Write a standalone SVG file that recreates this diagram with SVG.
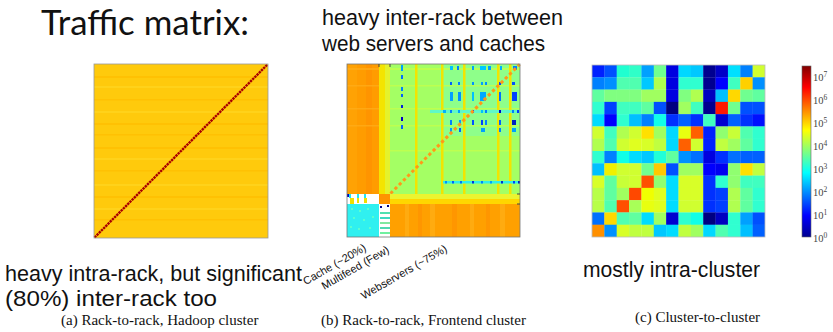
<svg xmlns="http://www.w3.org/2000/svg" width="833" height="332" viewBox="0 0 833 332">
<style>
.ann{font-family:"Liberation Sans",Arial,sans-serif;font-size:22px;fill:#111}
.title{font-family:Lato,"Liberation Sans",Arial,sans-serif;font-size:34px;fill:#111}
.cap{font-family:"Liberation Serif","Times New Roman",serif;font-size:15px;fill:#111}
.ax{font-family:"Liberation Sans",Arial,sans-serif;font-size:11px;fill:#111}
.cb{font-family:"Liberation Serif","Times New Roman",serif;font-size:10.5px;fill:#444}
.frame{fill:none;stroke:#999;stroke-width:0.8}
.yl{fill:#F2E400}
.bd{stroke:none}
</style>
<defs>
<linearGradient id="jet" x1="0" y1="0" x2="0" y2="1">
<stop offset="0" stop-color="#800000"/>
<stop offset="0.125" stop-color="#FF0000"/>
<stop offset="0.375" stop-color="#FFFF00"/>
<stop offset="0.625" stop-color="#00FFFF"/>
<stop offset="0.875" stop-color="#0000FF"/>
<stop offset="1" stop-color="#00008F"/>
</linearGradient>
</defs>
<rect width="833" height="332" fill="#fff"/>

<g id="title"><text class="title" x="41" y="35" textLength="208" lengthAdjust="spacingAndGlyphs">Traffic matrix:</text></g>

<g id="annotations">
<text class="ann" x="322" y="25" textLength="241" lengthAdjust="spacingAndGlyphs">heavy inter-rack between</text>
<text class="ann" x="322" y="51" textLength="223" lengthAdjust="spacingAndGlyphs">web servers and caches</text>
<text class="ann" x="5" y="281" textLength="297" lengthAdjust="spacingAndGlyphs">heavy intra-rack, but significant</text>
<text class="ann" x="5" y="306" textLength="212" lengthAdjust="spacingAndGlyphs">(80%) inter-rack too</text>
<text class="ann" x="583" y="277" textLength="177" lengthAdjust="spacingAndGlyphs">mostly intra-cluster</text>
</g>

<g id="matrix-a">
<rect x="94" y="64" width="174" height="174" fill="#FFCA0C"/>
<g fill="#FFBE00" opacity="0.7">
<rect x="94" y="76" width="174" height="2"/>
<rect x="94" y="99" width="174" height="1.5"/>
<rect x="94" y="123" width="174" height="2"/>
<rect x="94" y="134" width="174" height="1.5"/>
<rect x="94" y="147" width="174" height="2"/>
<rect x="94" y="170" width="174" height="1.5"/>
<rect x="94" y="196" width="174" height="2"/>
<rect x="94" y="219" width="174" height="1.5"/>
</g>
<g fill="#FFD620" opacity="0.7">
<rect x="94" y="86" width="174" height="2"/>
<rect x="94" y="111" width="174" height="2"/>
<rect x="94" y="158" width="174" height="2"/>
<rect x="94" y="184" width="174" height="2"/>
<rect x="94" y="208" width="174" height="2"/>
</g>
<line x1="94.5" y1="237.5" x2="267.5" y2="64.5" stroke="#A80000" stroke-width="2.4" stroke-dasharray="2.4 0.7"/>
<rect class="frame" x="94" y="64" width="174" height="174"/>
</g>

<g id="matrix-b">
<rect x="347" y="64" width="173" height="173" fill="#A4FF64"/>
<rect x="347" y="64" width="32" height="130" fill="#FF9C00"/>
<rect x="347" y="64" width="10" height="130" fill="#FFA204"/>
<rect x="366" y="64" width="6" height="130" fill="#FF9400"/>
<g fill="#FFAC18" opacity="0.8">
<rect x="347" y="68" width="32" height="2"/>
<rect x="347" y="85" width="32" height="1.5"/>
<rect x="347" y="108" width="32" height="1.5"/>
<rect x="347" y="125" width="32" height="1.5"/>
</g>
<rect x="379" y="64" width="6" height="130" fill="#F4E400"/>
<rect x="385" y="64" width="5" height="130" fill="#E4F22C"/>
<rect x="440" y="64" width="80" height="72" fill="#88FF94" opacity="0.8"/>
<g fill="#C4FF4C" opacity="0.8">
<rect x="390" y="68" width="130" height="2"/>
<rect x="390" y="85" width="130" height="1.5"/>
<rect x="390" y="108" width="130" height="1.5"/>
<rect x="390" y="125" width="130" height="1.5"/>
<rect x="390" y="150" width="130" height="1.5"/>
</g>
<g class="yl">
<rect x="415" y="64" width="2.5" height="130"/>
<rect x="441" y="64" width="2.5" height="130"/>
<rect x="463" y="64" width="2.5" height="130"/>
<rect x="497" y="64" width="2.5" height="130"/>
<rect x="509" y="64" width="2.5" height="130"/>
</g>
<rect x="430" y="110" width="90" height="3" fill="#60F8C8"/>
<rect x="443" y="181" width="77" height="2.5" fill="#30F0E8"/>
<g class="bd">
<rect x="401" y="65" width="2" height="6" fill="#00A0FF"/>
<rect x="401" y="75" width="2" height="4" fill="#0070FF"/>
<rect x="401" y="87" width="2" height="4" fill="#0080FF"/>
<rect x="401" y="94" width="2" height="3" fill="#0060FF"/>
<rect x="401" y="105" width="2" height="3" fill="#0020E0"/>
<rect x="401" y="117" width="2" height="4" fill="#0000C8"/>
<rect x="401" y="125" width="2" height="4" fill="#0060FF"/>
<rect x="450" y="66" width="3" height="4" fill="#00C0FF"/>
<rect x="457" y="66" width="2" height="4" fill="#0080FF"/>
<rect x="472" y="66" width="2" height="4" fill="#00A0FF"/>
<rect x="480" y="66" width="6" height="4" fill="#00C8FF"/>
<rect x="488" y="66" width="3" height="4" fill="#00A0FF"/>
<rect x="500" y="66" width="2" height="4" fill="#00B0FF"/>
<rect x="513" y="66" width="4" height="4" fill="#0080FF"/>
<rect x="450" y="82" width="2" height="3" fill="#0060FF"/>
<rect x="458" y="82" width="2" height="3" fill="#0080FF"/>
<rect x="472" y="82" width="2" height="3" fill="#0090FF"/>
<rect x="481" y="82" width="2" height="3" fill="#00A0FF"/>
<rect x="485" y="82" width="2" height="3" fill="#0090FF"/>
<rect x="499" y="82" width="2" height="3" fill="#0040FF"/>
<rect x="512" y="82" width="3" height="3" fill="#0050FF"/>
<rect x="450" y="92" width="3" height="9" fill="#00A0FF"/>
<rect x="458" y="92" width="3" height="9" fill="#0090FF"/>
<rect x="472" y="92" width="2" height="9" fill="#00C0FF"/>
<rect x="480" y="92" width="6" height="9" fill="#00A8FF"/>
<rect x="499" y="92" width="2" height="9" fill="#0070FF"/>
<rect x="512" y="92" width="5" height="9" fill="#0040FF"/>
<rect x="443" y="110" width="3" height="3" fill="#00B0FF"/>
<rect x="450" y="110" width="2" height="3" fill="#0080FF"/>
<rect x="458" y="110" width="2" height="3" fill="#00A0FF"/>
<rect x="472" y="110" width="2" height="3" fill="#0040FF"/>
<rect x="481" y="110" width="2" height="3" fill="#00C0FF"/>
<rect x="485" y="110" width="2" height="3" fill="#0080FF"/>
<rect x="499" y="110" width="2" height="3" fill="#0000C0"/>
<rect x="512" y="110" width="2" height="3" fill="#0080FF"/>
<rect x="517" y="110" width="2" height="3" fill="#0040FF"/>
<rect x="450" y="120" width="2" height="5" fill="#0080FF"/>
<rect x="459" y="120" width="2" height="5" fill="#00A0FF"/>
<rect x="472" y="120" width="2" height="5" fill="#0050FF"/>
<rect x="481" y="120" width="2" height="5" fill="#0040FF"/>
<rect x="485" y="120" width="2" height="5" fill="#0080FF"/>
<rect x="499" y="120" width="2" height="5" fill="#0060FF"/>
<rect x="512" y="120" width="4" height="5" fill="#0020C0"/>
<rect x="450" y="128" width="2" height="4" fill="#00A0FF"/>
<rect x="459" y="128" width="2" height="4" fill="#0060FF"/>
<rect x="481" y="128" width="4" height="4" fill="#00A0FF"/>
<rect x="499" y="128" width="2" height="4" fill="#0080FF"/>
<rect x="512" y="128" width="4" height="4" fill="#00A0FF"/>
<rect x="445" y="181" width="2" height="2.5" fill="#0090FF"/>
<rect x="452" y="181" width="2" height="2.5" fill="#0060FF"/>
<rect x="460" y="181" width="2" height="2.5" fill="#0070FF"/>
<rect x="472" y="181" width="2" height="2.5" fill="#0030E0"/>
<rect x="481" y="181" width="2" height="2.5" fill="#0080FF"/>
<rect x="490" y="181" width="2" height="2.5" fill="#00A0FF"/>
<rect x="501" y="181" width="2" height="2.5" fill="#0030D0"/>
<rect x="513" y="181" width="2" height="2.5" fill="#0040FF"/>
<rect x="518" y="181" width="2" height="2.5" fill="#0020C0"/>
</g>
<line x1="390.5" y1="193.5" x2="519.5" y2="64.5" stroke="#FF9818" stroke-width="3" stroke-dasharray="3.2 2.8"/>
<rect x="347" y="194" width="32" height="10" fill="#FFFFFF"/>
<rect x="347" y="194" width="2" height="3" fill="#0000C0"/>
<rect x="349" y="194" width="2" height="4" fill="#20E8F0"/>
<rect x="350" y="198" width="4" height="6" fill="#F0E000"/>
<rect x="357" y="194" width="2" height="4" fill="#20E8F0"/>
<rect x="357" y="198" width="2" height="5" fill="#F0E000"/>
<rect x="364" y="194" width="2" height="4" fill="#20E8F0"/>
<rect x="364" y="198" width="3" height="5" fill="#F0E000"/>
<rect x="379" y="194" width="11" height="10" fill="#FF9400"/>
<rect x="390" y="194" width="130" height="5" fill="#ECF430"/>
<rect x="390" y="199" width="130" height="5" fill="#FFD600"/>
<rect x="347" y="204" width="32" height="33" fill="#30F0F0"/>
<g fill="#58FFD0">
<rect x="351" y="208" width="2" height="2"/><rect x="359" y="210" width="2" height="2"/><rect x="367" y="208" width="2" height="2"/>
<rect x="353" y="217" width="2" height="2"/><rect x="363" y="219" width="2" height="2"/><rect x="372" y="216" width="2" height="2"/>
<rect x="350" y="226" width="2" height="2"/><rect x="358" y="228" width="2" height="2"/><rect x="369" y="227" width="2" height="2"/>
</g>
<rect x="379" y="204" width="11" height="33" fill="#FFFFFF"/>
<rect x="380" y="206" width="2" height="2" fill="#000090"/>
<rect x="387" y="205" width="2" height="2" fill="#000080"/>
<rect x="380" y="212" width="10" height="2" fill="#50E0B0"/>
<rect x="380" y="217" width="10" height="2" fill="#40D8C0"/>
<rect x="380" y="222" width="10" height="2" fill="#80E8A0"/>
<rect x="380" y="227" width="10" height="2" fill="#50D8B0"/>
<rect x="380" y="232" width="10" height="2" fill="#70F0A0"/>
<rect x="390" y="204" width="130" height="33" fill="#FFA000"/>
<g fill="#FFAE14" opacity="0.8">
<rect x="405" y="204" width="4" height="33"/><rect x="430" y="204" width="5" height="33"/><rect x="470" y="204" width="4" height="33"/><rect x="500" y="204" width="5" height="33"/>
</g>
<g fill="#FF9400" opacity="0.8">
<rect x="418" y="204" width="4" height="33"/><rect x="452" y="204" width="5" height="33"/><rect x="486" y="204" width="4" height="33"/>
</g>
<rect x="347" y="64" width="173" height="173" fill="none" stroke="#777" stroke-width="0.8"/>
<g stroke="#444" stroke-width="1">
<line x1="379" y1="64" x2="379" y2="67"/><line x1="390" y1="64" x2="390" y2="67"/>
<line x1="520" y1="194" x2="517" y2="194"/><line x1="520" y1="204" x2="517" y2="204"/>
</g>
<text class="ax" x="367" y="250" text-anchor="end" transform="rotate(-30 367 250)">Cache (~20%)</text>
<text class="ax" x="390" y="252" text-anchor="end" transform="rotate(-30 390 252)">Multifeed (Few)</text>
<text class="ax" x="448" y="251" text-anchor="end" transform="rotate(-30 448 251)">Webservers (~75%)</text>
</g>

<g id="matrix-c">
<g transform="translate(592 65) scale(12.357 12.286)">
<g>
<rect x="0" y="0" width="1.02" height="1.02" fill="#0020FF"/><rect x="1" y="0" width="1.02" height="1.02" fill="#0050FF"/><rect x="2" y="0" width="1.02" height="1.02" fill="#20FFD0"/><rect x="3" y="0" width="1.02" height="1.02" fill="#30FFC8"/><rect x="4" y="0" width="1.02" height="1.02" fill="#00A0FF"/><rect x="5" y="0" width="1.02" height="1.02" fill="#70FF90"/><rect x="6" y="0" width="1.02" height="1.02" fill="#0000E0"/><rect x="7" y="0" width="1.02" height="1.02" fill="#00D8FF"/><rect x="8" y="0" width="1.02" height="1.02" fill="#00C8FF"/><rect x="9" y="0" width="1.02" height="1.02" fill="#000090"/><rect x="10" y="0" width="1.02" height="1.02" fill="#0000C8"/><rect x="11" y="0" width="1.02" height="1.02" fill="#00E0FF"/><rect x="12" y="0" width="1.02" height="1.02" fill="#0080FF"/><rect x="13" y="0" width="1" height="1.02" fill="#D0FF30"/>
<rect x="0" y="1" width="1.02" height="1.02" fill="#0080FF"/><rect x="1" y="1" width="1.02" height="1.02" fill="#0090FF"/><rect x="2" y="1" width="1.02" height="1.02" fill="#50FFB0"/><rect x="3" y="1" width="1.02" height="1.02" fill="#50FFB0"/><rect x="4" y="1" width="1.02" height="1.02" fill="#00C8FF"/><rect x="5" y="1" width="1.02" height="1.02" fill="#B0FF50"/><rect x="6" y="1" width="1.02" height="1.02" fill="#0000E0"/><rect x="7" y="1" width="1.02" height="1.02" fill="#30FFD0"/><rect x="8" y="1" width="1.02" height="1.02" fill="#30FFD0"/><rect x="9" y="1" width="1.02" height="1.02" fill="#000090"/><rect x="10" y="1" width="1.02" height="1.02" fill="#0000FF"/><rect x="11" y="1" width="1.02" height="1.02" fill="#40FFC0"/><rect x="12" y="1" width="1.02" height="1.02" fill="#FFD000"/><rect x="13" y="1" width="1" height="1.02" fill="#0090FF"/>
<rect x="0" y="2" width="1.02" height="1.02" fill="#60FFA0"/><rect x="1" y="2" width="1.02" height="1.02" fill="#80FF80"/><rect x="2" y="2" width="1.02" height="1.02" fill="#80FF80"/><rect x="3" y="2" width="1.02" height="1.02" fill="#80FF80"/><rect x="4" y="2" width="1.02" height="1.02" fill="#A0FF60"/><rect x="5" y="2" width="1.02" height="1.02" fill="#A0FF60"/><rect x="6" y="2" width="1.02" height="1.02" fill="#0000E0"/><rect x="7" y="2" width="1.02" height="1.02" fill="#80FF80"/><rect x="8" y="2" width="1.02" height="1.02" fill="#B0FF50"/><rect x="9" y="2" width="1.02" height="1.02" fill="#0000C0"/><rect x="10" y="2" width="1.02" height="1.02" fill="#00C0FF"/><rect x="11" y="2" width="1.02" height="1.02" fill="#FFD800"/><rect x="12" y="2" width="1.02" height="1.02" fill="#70FF90"/><rect x="13" y="2" width="1" height="1.02" fill="#60FFA0"/>
<rect x="0" y="3" width="1.02" height="1.02" fill="#30FFD0"/><rect x="1" y="3" width="1.02" height="1.02" fill="#0040FF"/><rect x="2" y="3" width="1.02" height="1.02" fill="#40FFC0"/><rect x="3" y="3" width="1.02" height="1.02" fill="#40FFC0"/><rect x="4" y="3" width="1.02" height="1.02" fill="#60FFA0"/><rect x="5" y="3" width="1.02" height="1.02" fill="#0050FF"/><rect x="6" y="3" width="1.02" height="1.02" fill="#000080"/><rect x="7" y="3" width="1.02" height="1.02" fill="#A0FF60"/><rect x="8" y="3" width="1.02" height="1.02" fill="#40FFC0"/><rect x="9" y="3" width="1.02" height="1.02" fill="#000090"/><rect x="10" y="3" width="1.02" height="1.02" fill="#FF1800"/><rect x="11" y="3" width="1.02" height="1.02" fill="#70FF90"/><rect x="12" y="3" width="1.02" height="1.02" fill="#0050FF"/><rect x="13" y="3" width="1" height="1.02" fill="#0050FF"/>
<rect x="0" y="4" width="1.02" height="1.02" fill="#00DCFF"/><rect x="1" y="4" width="1.02" height="1.02" fill="#0000FF"/><rect x="2" y="4" width="1.02" height="1.02" fill="#30FFD0"/><rect x="3" y="4" width="1.02" height="1.02" fill="#00C0FF"/><rect x="4" y="4" width="1.02" height="1.02" fill="#0080FF"/><rect x="5" y="4" width="1.02" height="1.02" fill="#10FFE8"/><rect x="6" y="4" width="1.02" height="1.02" fill="#0030FF"/><rect x="7" y="4" width="1.02" height="1.02" fill="#0060FF"/><rect x="8" y="4" width="1.02" height="1.02" fill="#0030FF"/><rect x="9" y="4" width="1.02" height="1.02" fill="#40FFC0"/><rect x="10" y="4" width="1.02" height="1.02" fill="#0000D0"/><rect x="11" y="4" width="1.02" height="1.02" fill="#0060FF"/><rect x="12" y="4" width="1.02" height="1.02" fill="#0030FF"/><rect x="13" y="4" width="1" height="1.02" fill="#0010FF"/>
<rect x="0" y="5" width="1.02" height="1.02" fill="#D0FF30"/><rect x="1" y="5" width="1.02" height="1.02" fill="#40FFC0"/><rect x="2" y="5" width="1.02" height="1.02" fill="#B0FF50"/><rect x="3" y="5" width="1.02" height="1.02" fill="#D0FF30"/><rect x="4" y="5" width="1.02" height="1.02" fill="#FFE000"/><rect x="5" y="5" width="1.02" height="1.02" fill="#A0FF60"/><rect x="6" y="5" width="1.02" height="1.02" fill="#00D8FF"/><rect x="7" y="5" width="1.02" height="1.02" fill="#E8FF10"/><rect x="8" y="5" width="1.02" height="1.02" fill="#FF6000"/><rect x="9" y="5" width="1.02" height="1.02" fill="#0020FF"/><rect x="10" y="5" width="1.02" height="1.02" fill="#90FF70"/><rect x="11" y="5" width="1.02" height="1.02" fill="#C8FF38"/><rect x="12" y="5" width="1.02" height="1.02" fill="#50FFB0"/><rect x="13" y="5" width="1" height="1.02" fill="#30FFD0"/>
<rect x="0" y="6" width="1.02" height="1.02" fill="#B0FF50"/><rect x="1" y="6" width="1.02" height="1.02" fill="#50FFB0"/><rect x="2" y="6" width="1.02" height="1.02" fill="#D0FF30"/><rect x="3" y="6" width="1.02" height="1.02" fill="#E0FF20"/><rect x="4" y="6" width="1.02" height="1.02" fill="#D8FF28"/><rect x="5" y="6" width="1.02" height="1.02" fill="#C0FF40"/><rect x="6" y="6" width="1.02" height="1.02" fill="#00D8FF"/><rect x="7" y="6" width="1.02" height="1.02" fill="#FF6000"/><rect x="8" y="6" width="1.02" height="1.02" fill="#D0FF30"/><rect x="9" y="6" width="1.02" height="1.02" fill="#0020FF"/><rect x="10" y="6" width="1.02" height="1.02" fill="#C0FF40"/><rect x="11" y="6" width="1.02" height="1.02" fill="#A0FF60"/><rect x="12" y="6" width="1.02" height="1.02" fill="#60FFA0"/><rect x="13" y="6" width="1" height="1.02" fill="#30FFD0"/>
<rect x="0" y="7" width="1.02" height="1.02" fill="#30FFD0"/><rect x="1" y="7" width="1.02" height="1.02" fill="#0080FF"/><rect x="2" y="7" width="1.02" height="1.02" fill="#10FFE8"/><rect x="3" y="7" width="1.02" height="1.02" fill="#00DCFF"/><rect x="4" y="7" width="1.02" height="1.02" fill="#00C8FF"/><rect x="5" y="7" width="1.02" height="1.02" fill="#20FFD8"/><rect x="6" y="7" width="1.02" height="1.02" fill="#60FFA0"/><rect x="7" y="7" width="1.02" height="1.02" fill="#0090FF"/><rect x="8" y="7" width="1.02" height="1.02" fill="#0070FF"/><rect x="9" y="7" width="1.02" height="1.02" fill="#0000E0"/><rect x="10" y="7" width="1.02" height="1.02" fill="#0030FF"/><rect x="11" y="7" width="1.02" height="1.02" fill="#0070FF"/><rect x="12" y="7" width="1.02" height="1.02" fill="#0060FF"/><rect x="13" y="7" width="1" height="1.02" fill="#0060FF"/>
<rect x="0" y="8" width="1.02" height="1.02" fill="#00C0FF"/><rect x="1" y="8" width="1.02" height="1.02" fill="#F0F000"/><rect x="2" y="8" width="1.02" height="1.02" fill="#D0FF30"/><rect x="3" y="8" width="1.02" height="1.02" fill="#D0FF30"/><rect x="4" y="8" width="1.02" height="1.02" fill="#70FF90"/><rect x="5" y="8" width="1.02" height="1.02" fill="#FFC800"/><rect x="6" y="8" width="1.02" height="1.02" fill="#0050FF"/><rect x="7" y="8" width="1.02" height="1.02" fill="#A0FF60"/><rect x="8" y="8" width="1.02" height="1.02" fill="#A0FF60"/><rect x="9" y="8" width="1.02" height="1.02" fill="#0000FF"/><rect x="10" y="8" width="1.02" height="1.02" fill="#0000F0"/><rect x="11" y="8" width="1.02" height="1.02" fill="#90FF70"/><rect x="12" y="8" width="1.02" height="1.02" fill="#FFE000"/><rect x="13" y="8" width="1" height="1.02" fill="#C0FF40"/>
<rect x="0" y="9" width="1.02" height="1.02" fill="#D8FF28"/><rect x="1" y="9" width="1.02" height="1.02" fill="#60FFA0"/><rect x="2" y="9" width="1.02" height="1.02" fill="#C8FF38"/><rect x="3" y="9" width="1.02" height="1.02" fill="#D0FF30"/><rect x="4" y="9" width="1.02" height="1.02" fill="#FF5000"/><rect x="5" y="9" width="1.02" height="1.02" fill="#90FF70"/><rect x="6" y="9" width="1.02" height="1.02" fill="#00DCFF"/><rect x="7" y="9" width="1.02" height="1.02" fill="#D8FF28"/><rect x="8" y="9" width="1.02" height="1.02" fill="#D8FF28"/><rect x="9" y="9" width="1.02" height="1.02" fill="#0030FF"/><rect x="10" y="9" width="1.02" height="1.02" fill="#30FFD0"/><rect x="11" y="9" width="1.02" height="1.02" fill="#90FF70"/><rect x="12" y="9" width="1.02" height="1.02" fill="#40FFC0"/><rect x="13" y="9" width="1" height="1.02" fill="#40FFC0"/>
<rect x="0" y="10" width="1.02" height="1.02" fill="#B8FF48"/><rect x="1" y="10" width="1.02" height="1.02" fill="#60FFA0"/><rect x="2" y="10" width="1.02" height="1.02" fill="#A0FF60"/><rect x="3" y="10" width="1.02" height="1.02" fill="#FF4800"/><rect x="4" y="10" width="1.02" height="1.02" fill="#F0FF00"/><rect x="5" y="10" width="1.02" height="1.02" fill="#E0FF20"/><rect x="6" y="10" width="1.02" height="1.02" fill="#00DCFF"/><rect x="7" y="10" width="1.02" height="1.02" fill="#D8FF28"/><rect x="8" y="10" width="1.02" height="1.02" fill="#D8FF28"/><rect x="9" y="10" width="1.02" height="1.02" fill="#0030FF"/><rect x="10" y="10" width="1.02" height="1.02" fill="#0040FF"/><rect x="11" y="10" width="1.02" height="1.02" fill="#B0FF50"/><rect x="12" y="10" width="1.02" height="1.02" fill="#60FFA0"/><rect x="13" y="10" width="1" height="1.02" fill="#30FFD0"/>
<rect x="0" y="11" width="1.02" height="1.02" fill="#B8FF48"/><rect x="1" y="11" width="1.02" height="1.02" fill="#50FFB0"/><rect x="2" y="11" width="1.02" height="1.02" fill="#FF5000"/><rect x="3" y="11" width="1.02" height="1.02" fill="#A8FF58"/><rect x="4" y="11" width="1.02" height="1.02" fill="#E8FF10"/><rect x="5" y="11" width="1.02" height="1.02" fill="#E0FF20"/><rect x="6" y="11" width="1.02" height="1.02" fill="#00DCFF"/><rect x="7" y="11" width="1.02" height="1.02" fill="#D0FF30"/><rect x="8" y="11" width="1.02" height="1.02" fill="#D0FF30"/><rect x="9" y="11" width="1.02" height="1.02" fill="#0030FF"/><rect x="10" y="11" width="1.02" height="1.02" fill="#0040FF"/><rect x="11" y="11" width="1.02" height="1.02" fill="#B0FF50"/><rect x="12" y="11" width="1.02" height="1.02" fill="#60FFA0"/><rect x="13" y="11" width="1" height="1.02" fill="#30FFD0"/>
<rect x="0" y="12" width="1.02" height="1.02" fill="#0070FF"/><rect x="1" y="12" width="1.02" height="1.02" fill="#FFD800"/><rect x="2" y="12" width="1.02" height="1.02" fill="#50FFB0"/><rect x="3" y="12" width="1.02" height="1.02" fill="#60FFA0"/><rect x="4" y="12" width="1.02" height="1.02" fill="#00DCFF"/><rect x="5" y="12" width="1.02" height="1.02" fill="#A0FF60"/><rect x="6" y="12" width="1.02" height="1.02" fill="#0000D0"/><rect x="7" y="12" width="1.02" height="1.02" fill="#30FFD0"/><rect x="8" y="12" width="1.02" height="1.02" fill="#10FFE8"/><rect x="9" y="12" width="1.02" height="1.02" fill="#000080"/><rect x="10" y="12" width="1.02" height="1.02" fill="#0000C0"/><rect x="11" y="12" width="1.02" height="1.02" fill="#30FFD0"/><rect x="12" y="12" width="1.02" height="1.02" fill="#00A0FF"/><rect x="13" y="12" width="1" height="1.02" fill="#0050FF"/>
<rect x="0" y="13" width="1.02" height="1" fill="#FF9000"/><rect x="1" y="13" width="1.02" height="1" fill="#0090FF"/><rect x="2" y="13" width="1.02" height="1" fill="#D8FF28"/><rect x="3" y="13" width="1.02" height="1" fill="#C0FF40"/><rect x="4" y="13" width="1.02" height="1" fill="#C0FF40"/><rect x="5" y="13" width="1.02" height="1" fill="#00C8FF"/><rect x="6" y="13" width="1.02" height="1" fill="#00DCFF"/><rect x="7" y="13" width="1.02" height="1" fill="#C0FF40"/><rect x="8" y="13" width="1.02" height="1" fill="#A0FF60"/><rect x="9" y="13" width="1.02" height="1" fill="#00D8FF"/><rect x="10" y="13" width="1.02" height="1" fill="#50FFB0"/><rect x="11" y="13" width="1.02" height="1" fill="#30FFD0"/><rect x="12" y="13" width="1.02" height="1" fill="#00C0FF"/><rect x="13" y="13" width="1" height="1" fill="#0060FF"/>
</g>
</g>
<rect x="592" y="65" width="173" height="172" fill="none" stroke="#bbb" stroke-width="0.8"/>
</g>

<g id="colorbar">
<rect x="802" y="66" width="9" height="171" fill="url(#jet)" stroke="#666" stroke-width="0.6"/>
<text class="cb" x="813" y="81">10<tspan font-size="7.5" dy="-4.5">7</tspan></text>
<text class="cb" x="813" y="104">10<tspan font-size="7.5" dy="-4.5">6</tspan></text>
<text class="cb" x="813" y="127">10<tspan font-size="7.5" dy="-4.5">5</tspan></text>
<text class="cb" x="813" y="150">10<tspan font-size="7.5" dy="-4.5">4</tspan></text>
<text class="cb" x="813" y="173">10<tspan font-size="7.5" dy="-4.5">3</tspan></text>
<text class="cb" x="813" y="196">10<tspan font-size="7.5" dy="-4.5">2</tspan></text>
<text class="cb" x="813" y="219">10<tspan font-size="7.5" dy="-4.5">1</tspan></text>
<text class="cb" x="813" y="242">10<tspan font-size="7.5" dy="-4.5">0</tspan></text>
</g>

<g id="captions">
<text class="cap" x="61" y="325">(a) Rack-to-rack, Hadoop cluster</text>
<text class="cap" x="321" y="325">(b) Rack-to-rack, Frontend cluster</text>
<text class="cap" x="635" y="322">(c) Cluster-to-cluster</text>
</g>
</svg>
